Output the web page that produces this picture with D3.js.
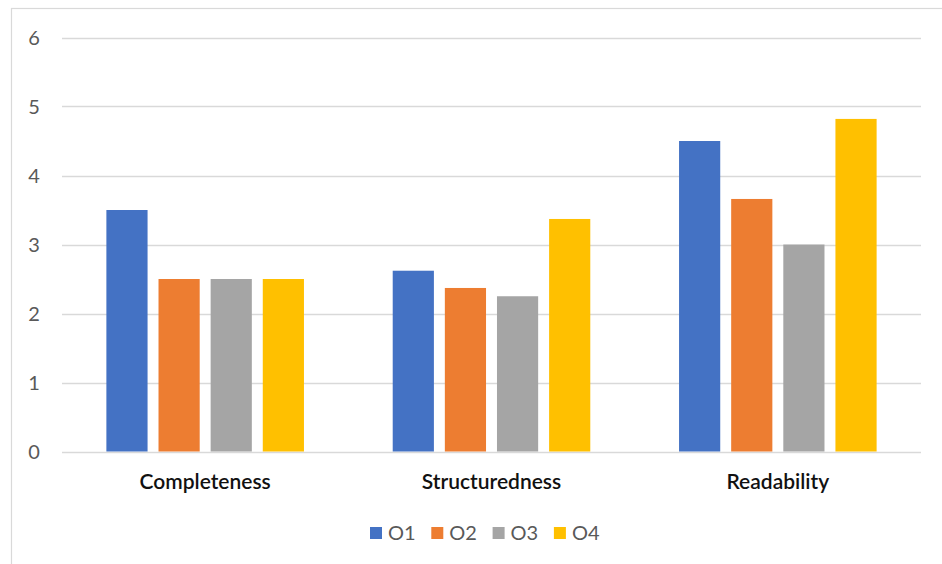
<!DOCTYPE html>
<html>
<head>
<meta charset="utf-8">
<script src="https://cdn.jsdelivr.net/npm/d3@7"></script>
<style>
  html, body { margin: 0; padding: 0; background: #fff; }
  svg { display: block; }
  text { font-family: "Lato", "Open Sans", sans-serif; }
</style>
</head>
<body>
<svg id="chart" width="942" height="564"></svg>
<script>
// Scores per criterion for each of the four options
const categories = ["Completeness", "Structuredness", "Readability"];
const seriesNames = ["O1", "O2", "O3", "O4"];
const o1 = [3.5, 2.62, 4.5];
const o2 = [2.5, 2.37, 3.66];
const o3 = [2.5, 2.25, 3.0];
const o4 = [2.5, 3.37, 4.82];
const yTicks = [0, 1, 2, 3, 4, 5, 6];
const colors = ["#4472C4", "#ED7D31", "#A5A5A5", "#FFC000"];

const seriesValues = [o1, o2, o3, o4];

const svg = d3.select("#chart");

// Chart frame
svg.append("rect")
  .attr("x", 11.5).attr("y", 8.5)
  .attr("width", 960).attr("height", 600)
  .attr("fill", "none").attr("stroke", "#d9d9d9").attr("stroke-width", 1.2);

const plot = { left: 62, right: 921, top: 37.5, bottom: 451.5 };

const y = d3.scaleLinear().domain([0, 6]).range([plot.bottom, plot.top]);

const x0 = d3.scaleBand()
  .domain(categories)
  .range([plot.left, plot.right])
  .paddingInner(0.31)
  .paddingOuter(0.155);

const x1 = d3.scaleBand()
  .domain(seriesNames)
  .range([0, x0.bandwidth()])
  .paddingInner(0.21);

// Gridlines
svg.append("g")
  .selectAll("line")
  .data(yTicks)
  .join("line")
  .attr("x1", plot.left).attr("x2", plot.right)
  .attr("y1", d => Math.round(y(d)) + 0.5)
  .attr("y2", d => Math.round(y(d)) + 0.5)
  .attr("stroke", "#d9d9d9")
  .attr("stroke-width", d => d === 0 ? 1.6 : 1.4);

// Y tick labels
svg.append("g")
  .selectAll("text")
  .data(yTicks)
  .join("text")
  .attr("x", 34)
  .attr("y", d => y(d))
  .attr("dy", "0.36em")
  .attr("text-anchor", "middle")
  .attr("fill", "#595959")
  .attr("font-size", 20)
  .text(d => d);

// Bars
const groups = svg.append("g")
  .selectAll("g")
  .data(categories)
  .join("g")
  .attr("transform", d => `translate(${x0(d)},0)`);

groups.selectAll("rect")
  .data((c, ci) => seriesNames.map((s, si) => ({ s, si, v: seriesValues[si][ci] })))
  .join("rect")
  .attr("x", d => x1(d.s))
  .attr("width", x1.bandwidth())
  .attr("y", d => y(d.v))
  .attr("height", d => y(0) - y(d.v))
  .attr("fill", d => colors[d.si]);

// Category labels
svg.append("g")
  .selectAll("text")
  .data(categories)
  .join("text")
  .attr("x", d => x0(d) + x0.bandwidth() / 2)
  .attr("y", 489)
  .attr("text-anchor", "middle")
  .attr("fill", "#111")
  .attr("font-size", 21)
  .attr("font-weight", 600)
  .text(d => d);

// Legend
const legend = svg.append("g")
  .selectAll("g")
  .data(seriesNames)
  .join("g")
  .attr("transform", (d, i) => `translate(${370 + i * 61.3},0)`);

legend.append("rect")
  .attr("x", 0).attr("y", 527)
  .attr("width", 12).attr("height", 12)
  .attr("fill", (d, i) => colors[i]);

legend.append("text")
  .attr("x", 18).attr("y", 533)
  .attr("dy", "0.36em")
  .attr("fill", "#595959")
  .attr("font-size", 20)
  .text(d => d);
</script>
</body>
</html>
